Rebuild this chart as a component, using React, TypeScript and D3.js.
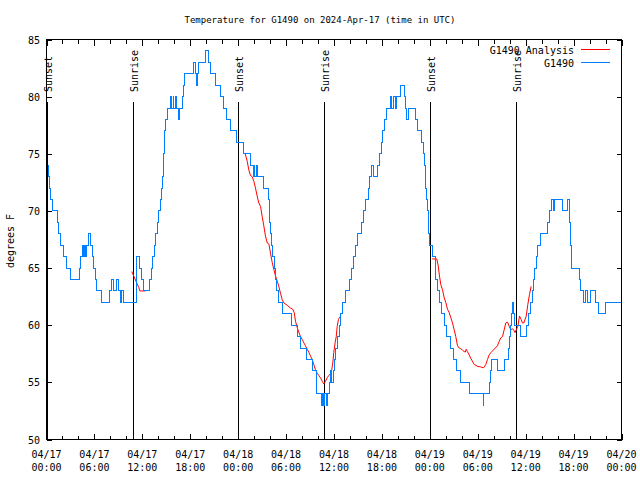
import React from "react";
import * as d3 from "d3";

const titleText = "Temperature for G1490 on 2024-Apr-17 (time in UTC)";
const yLabel = "degrees F";
const seriesNames = ["G1490 Analysis", "G1490"];
const seriesColors = ["#ff0000", "#0080ff"];

// x ticks (hours since 04/17 00:00 UTC)
const xTickHours = [0, 6, 12, 18, 24, 30, 36, 42, 48, 54, 60, 66, 72];
const xTickDates = ["04/17", "04/17", "04/17", "04/17", "04/18", "04/18", "04/18", "04/18", "04/19", "04/19", "04/19", "04/19", "04/20"];
const xTickTimes = ["00:00", "06:00", "12:00", "18:00", "00:00", "06:00", "12:00", "18:00", "00:00", "06:00", "12:00", "18:00", "00:00"];
const yTicks = [50, 55, 60, 65, 70, 75, 80, 85];

const sunEventHours = [0.05, 10.89, 24.04, 34.81, 48.08, 58.85];
const sunEventLabels = ["Sunset", "Sunrise", "Sunset", "Sunrise", "Sunset", "Sunrise"];

// observed G1490 temperatures (hour, °F)
const observed: [number, number][] = [
  [0.17, 74], [0.25, 73], [0.38, 72], [0.5, 71], [0.8, 70], [1.38, 69], [1.55, 68], [1.7, 67], [2.1, 66], [2.55, 65],
  [2.95, 64], [4.1, 65], [4.3, 66], [4.45, 67], [4.62, 66], [4.75, 67], [4.88, 66], [5.02, 67], [5.2, 68], [5.55, 67],
  [5.75, 66], [5.92, 65], [6.08, 64], [6.25, 63], [6.85, 62], [7.95, 63], [8.2, 64], [8.45, 63], [8.75, 64], [9.0, 63],
  [9.3, 62], [9.45, 63], [9.7, 62], [11.22, 66], [11.6, 65], [11.85, 64], [12.2, 63], [12.9, 64], [13.1, 65], [13.3, 66],
  [13.5, 67], [13.7, 68], [13.85, 69], [14.0, 70], [14.3, 71], [14.4, 72], [14.5, 73], [14.6, 74], [14.68, 75], [14.75, 76],
  [14.82, 77], [14.93, 78], [15.1, 79], [15.5, 80], [15.62, 79], [15.85, 80], [15.95, 79], [16.1, 80], [16.25, 79], [16.5, 78],
  [16.7, 79], [17.0, 80], [17.15, 81], [17.3, 82], [18.35, 83], [18.65, 82], [18.72, 81], [18.85, 82], [19.0, 83], [19.95, 84],
  [20.3, 83], [20.5, 82], [21.2, 81], [21.75, 80], [22.15, 79], [22.6, 78], [23.1, 77], [23.75, 76],
  [24.62, 75], [25.5, 74], [25.9, 73], [26.0, 74], [26.1, 73], [26.3, 74], [26.45, 73], [27.15, 72], [27.85, 71], [27.92, 70],
  [27.97, 69], [28.05, 68], [28.2, 67], [28.35, 66], [28.5, 65], [28.65, 64], [28.85, 63], [29.05, 62], [29.55, 61], [30.72, 60],
  [31.45, 59], [31.75, 58], [32.5, 57], [33.33, 56], [33.8, 54], [34.45, 53], [34.6, 54], [34.7, 53], [34.85, 54], [35.0, 53],
  [35.2, 54], [35.4, 55], [35.6, 56], [35.72, 55], [35.9, 56], [36.05, 57], [36.25, 58], [36.45, 59], [36.65, 60], [36.85, 61],
  [37.05, 62], [37.5, 63], [37.95, 64], [38.2, 65], [38.4, 66], [38.7, 67], [38.95, 68], [39.4, 69], [39.65, 70], [39.95, 71],
  [40.35, 72], [40.5, 73], [40.7, 74], [40.9, 73], [41.5, 74], [41.7, 75], [41.95, 76], [42.1, 77], [42.3, 78], [42.6, 79],
  [43.05, 80], [43.2, 79], [43.5, 80], [43.65, 79], [43.85, 80], [44.35, 81], [44.8, 80], [44.95, 79], [45.05, 78], [45.3, 79],
  [46.15, 78], [46.4, 77], [46.92, 76], [47.25, 75], [47.35, 74], [47.42, 73], [47.5, 72], [47.6, 71], [47.75, 70], [47.82, 69],
  [47.88, 68], [48.0, 67], [48.3, 66], [48.65, 65], [48.72, 64], [48.9, 63], [49.2, 62], [49.5, 61], [49.85, 60], [50.1, 59],
  [50.6, 58], [50.95, 57], [51.4, 56], [51.85, 55], [53.0, 54], [54.68, 53], [54.78, 54], [55.45, 55], [55.6, 56], [55.75, 57],
  [56.45, 56], [57.3, 57], [57.85, 58], [57.95, 59], [58.1, 60], [58.25, 61], [58.35, 62], [58.48, 61], [58.62, 60], [59.3, 59],
  [60.05, 60], [60.3, 61], [60.6, 62], [60.85, 63], [61.0, 64], [61.15, 65], [61.3, 66], [61.45, 67], [61.8, 68], [62.7, 69],
  [62.95, 70], [63.2, 71], [63.45, 70], [63.65, 71], [64.55, 70], [65.25, 71], [65.55, 69], [65.62, 67], [65.7, 66], [65.8, 65],
  [66.7, 64], [66.9, 63], [67.3, 62], [67.5, 63], [67.75, 62], [68.1, 63], [68.7, 62], [69.1, 61], [69.95, 62], [72, 62],
];

// analysis segments (hour, °F)
const analysisMorning1: [number, number][] = [
  [10.68, 64.7], [10.93, 64.3], [11.36, 63.6], [11.56, 63.3], [11.68, 63.0], [12.4, 63.0],
];
const analysisNight2: [number, number][] = [
  [24.88, 75.0], [25.13, 74.35], [25.33, 73.6], [25.54, 73.1], [25.75, 73.0], [25.96, 72.6], [26.17, 72.0], [26.38, 71.3],
  [26.58, 70.7], [26.8, 70.4], [27.01, 69.5], [27.21, 68.7], [27.42, 67.8], [27.64, 67.2], [27.85, 67.1], [28.05, 66.3],
  [28.26, 65.5], [28.46, 64.9], [28.68, 64.3], [28.89, 63.85], [29.09, 63.4], [29.3, 62.8], [29.51, 62.25], [29.71, 61.96],
  [30.14, 61.75], [30.55, 61.5], [30.84, 61.4], [31.02, 61.1], [31.18, 60.35], [31.39, 59.8], [31.59, 59.4], [31.81, 59.0],
  [32.02, 58.75], [32.22, 58.46], [32.43, 58.2], [32.64, 57.9], [32.84, 57.65], [33.06, 57.3], [33.27, 57.0], [33.47, 56.56],
  [33.68, 56.1], [33.9, 55.8], [34.1, 55.6], [34.31, 55.4], [34.52, 55.1], [34.72, 54.85], [34.94, 55.1], [35.15, 55.4],
  [35.35, 55.6], [35.56, 55.75], [35.72, 56.1], [35.85, 56.7], [35.97, 57.6], [36.15, 58.5], [36.28, 59.0], [36.4, 59.9],
  [36.56, 60.5], [36.7, 60.7], [36.9, 60.8],
];
const analysisNight3: [number, number][] = [
  [48.3, 65.8], [48.87, 65.8], [49.05, 65.2], [49.21, 64.3], [49.37, 63.56], [49.59, 63.1], [49.8, 62.4], [50.0, 62.0],
  [50.21, 61.4], [50.43, 61.1], [50.63, 60.65], [50.84, 60.2], [51.05, 59.6], [51.25, 59.0], [51.47, 58.2], [51.68, 58.0],
  [51.88, 57.95], [52.09, 57.8], [52.3, 57.7], [52.45, 57.65], [52.55, 57.9], [52.7, 57.7], [52.93, 57.4], [53.13, 57.1],
  [53.56, 56.56], [53.97, 56.4], [54.38, 56.35], [54.72, 56.27], [55.01, 56.56], [55.22, 57.0], [55.43, 57.4], [55.64, 57.6],
  [56.06, 57.9], [56.47, 58.2], [56.69, 58.6], [56.89, 58.9], [57.1, 59.0], [57.31, 59.6], [57.51, 60.2], [57.73, 60.27],
  [57.94, 59.9], [58.14, 59.6], [58.35, 59.7], [58.56, 59.5], [58.67, 59.35], [58.82, 59.6], [59.02, 59.9], [59.23, 60.8],
  [59.44, 60.5], [59.6, 60.2], [59.77, 60.2], [60.07, 60.8], [60.27, 61.8], [60.48, 62.7], [60.69, 63.4],
];

const FONT = "'DejaVu Sans Mono', monospace";

export default function App() {
  const L = 46.5, R = 621.5, T = 39.5, B = 439.5;
  const x = d3.scaleLinear().domain([0, 72]).range([L, R]);
  const y = d3.scaleLinear().domain([50, 85]).range([B, T]);

  const stepLine = d3.line<[number, number]>().x((d) => x(d[0])).y((d) => y(d[1])).curve(d3.curveStepAfter);
  const smoothLine = d3.line<[number, number]>().x((d) => x(d[0])).y((d) => y(d[1]));

  const minorHours = d3.range(0, 73, 2);
  const isMajor = (h: number) => h % 6 === 0;

  return (
    <svg width={640} height={480} style={{ display: "block", position: "absolute", left: 0, top: 0, background: "#fff" }}
      fontFamily={FONT} fontSize={10}>
      <rect x={0} y={0} width={640} height={480} fill="#fff" />
      <text x={320} y={23} textAnchor="middle" fontSize={9}>{titleText}</text>

      {/* sunrise / sunset markers */}
      {sunEventHours.map((h, i) => {
        const px = Math.round(x(h)) + 0.5;
        return (
          <g key={"sun" + i}>
            <line x1={px} x2={px} y1={y(79.5)} y2={B} stroke="#000" strokeWidth={1} shapeRendering="crispEdges" />
            <text transform={`translate(${px + 4},92) rotate(-90)`} textAnchor="start">{sunEventLabels[i]}</text>
          </g>
        );
      })}

      {/* analysis line */}
      {[analysisMorning1, analysisNight2, analysisNight3].map((seg, i) => (
        <path key={"a" + i} d={smoothLine(seg) || ""} fill="none" stroke={seriesColors[0]} strokeWidth={1} />
      ))}
      {/* observed line */}
      <path d={stepLine(observed) || ""} fill="none" stroke={seriesColors[1]} strokeWidth={1} shapeRendering="crispEdges" />

      {/* frame */}
      <rect x={L} y={T} width={R - L} height={B - T} fill="none" stroke="#000" strokeWidth={1} shapeRendering="crispEdges" />

      {/* x ticks */}
      {minorHours.map((h) => {
        const px = Math.round(x(h)) + 0.5;
        const len = isMajor(h) ? 6 : 4;
        return (
          <g key={"xt" + h}>
            <line x1={px} x2={px} y1={B} y2={B - len} stroke="#000" shapeRendering="crispEdges" />
            <line x1={px} x2={px} y1={T} y2={T + len} stroke="#000" shapeRendering="crispEdges" />
          </g>
        );
      })}
      {xTickHours.map((h, i) => (
        <g key={"xl" + h}>
          <text x={x(h)} y={458} textAnchor="middle">{xTickDates[i]}</text>
          <text x={x(h)} y={471} textAnchor="middle">{xTickTimes[i]}</text>
        </g>
      ))}

      {/* y ticks */}
      {yTicks.map((v) => {
        const py = Math.round(y(v)) + 0.5;
        return (
          <g key={"yt" + v}>
            <line x1={L} x2={L + 5} y1={py} y2={py} stroke="#000" shapeRendering="crispEdges" />
            <line x1={R} x2={R - 5} y1={py} y2={py} stroke="#000" shapeRendering="crispEdges" />
            <text x={40} y={py + 3.5} textAnchor="end">{v}</text>
          </g>
        );
      })}

      <text transform="translate(14,241) rotate(-90)" textAnchor="middle">{yLabel}</text>

      {/* legend */}
      {seriesNames.map((name, i) => (
        <g key={"lg" + i}>
          <text x={574} y={54 + i * 12.5} textAnchor="end">{name}</text>
          <line x1={581} x2={610} y1={49.5 + i * 13} y2={49.5 + i * 13} stroke={seriesColors[i]} strokeWidth={1} shapeRendering="crispEdges" />
        </g>
      ))}
    </svg>
  );
}
